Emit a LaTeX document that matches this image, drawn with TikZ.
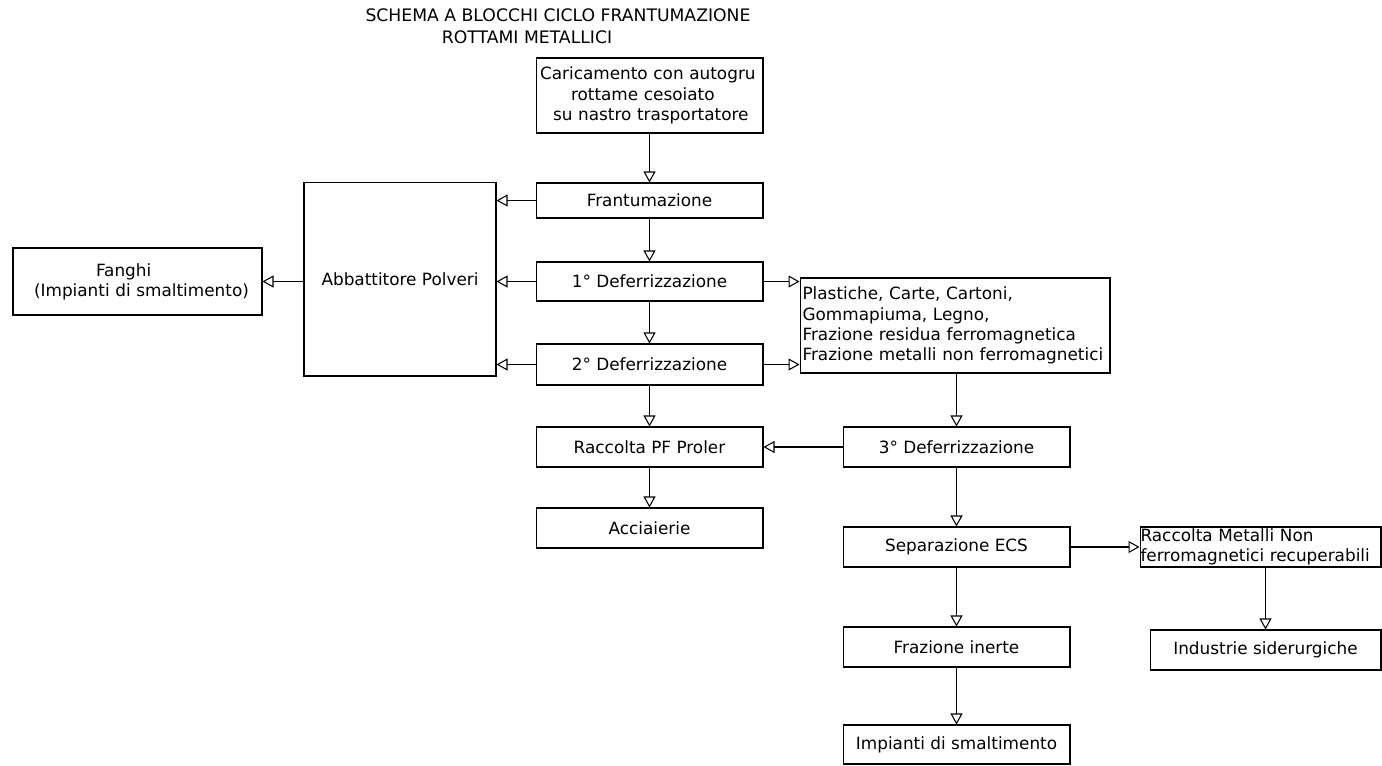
\documentclass[tikz,border=0pt]{standalone}
\usepackage{fontspec}
\setmainfont{DejaVu Sans}
\usetikzlibrary{arrows.meta}

\begin{document}
\begin{tikzpicture}[x=0.02cm,y=-0.02cm,
  box/.style={draw,line width=0.6pt,rectangle,minimum width=4.54cm,minimum height=0.8cm,inner sep=0.06cm,font=\fontsize{9.6}{11.5}\selectfont},
  flow/.style={line width=0.6pt,-{Triangle[open,length=0.22cm,width=0.24cm]}}]
\useasboundingbox (0,0) rectangle (1382,765);
% titolo
\node[font=\fontsize{9.8}{11.5}\selectfont] (title) at (558,15) {SCHEMA A BLOCCHI CICLO FRANTUMAZIONE};
\node[font=\fontsize{9.8}{11.5}\selectfont] (title2) at (527,37) {ROTTAMI METALLICI};

% colonna centrale
\node[box,minimum height=1.5cm,text width=4.38cm,align=left,inner xsep=0.08cm] (carica) at (649.5,95.5)
  {Caricamento con autogru\\\hspace*{0.62cm}rottame cesoiato\\\hspace*{0.26cm}su nastro trasportatore};
\node[box,minimum height=0.7cm] (frant) at (649.5,200.5) {Frantumazione};
\node[box,minimum height=0.78cm] (def1) at (649.5,281.5) {1° Deferrizzazione};
\node[box,minimum height=0.82cm] (def2) at (649.5,364.5) {2° Deferrizzazione};
\node[box] (raccPF) at (649.5,447) {Raccolta PF Proler};
\node[box] (acc) at (649.5,528) {Acciaierie};

% lato sinistro
\node[box,minimum width=3.84cm,minimum height=3.88cm] (abbatt) at (400,279) {Abbattitore Polveri};
\node[box,minimum height=1.34cm,text width=4.82cm,align=left,inner xsep=0.08cm] (fanghi) at (137.5,281.5)
  {\hspace*{1.58cm}Fanghi\\\hspace*{0.34cm}(Impianti di smaltimento)};

% lato destro
\node[box,minimum height=1.9cm,text width=6.1cm,align=left,inner xsep=0.05cm] (plast) at (955,325.5)
  {Plastiche, Carte, Cartoni,\\Gommapiuma, Legno,\\Frazione residua ferromagnetica\\Frazione metalli non ferromagnetici};
\node[box] (def3) at (956.5,447) {3° Deferrizzazione};
\node[box] (sep) at (956.5,547) {Separazione ECS};
\node[box,inner sep=0pt,text width=4.8cm,inner xsep=0.01cm,align=left] (raccMet) at (1260.5,547)
  {Raccolta Metalli Non\\ferromagnetici recuperabili};
\node[box,minimum width=4.62cm] (industrie) at (1265.5,650) {Industrie siderurgiche};
\node[box] (inerte) at (956.5,647) {Frazione inerte};
\node[box,minimum height=0.78cm] (impianti) at (956.5,744.5) {Impianti di smaltimento};

% frecce
\draw[flow] (carica) -- (frant);
\draw[flow] (frant) -- (def1);
\draw[flow] (def1) -- (def2);
\draw[flow] (def2) -- (raccPF);
\draw[flow] (raccPF) -- (acc);
\draw[flow] (frant.west) -- (frant.west -| abbatt.east);
\draw[flow] (def1.west) -- (def1.west -| abbatt.east);
\draw[flow] (def2.west) -- (def2.west -| abbatt.east);
\draw[flow] (abbatt.west |- fanghi.east) -- (fanghi.east);
\draw[flow] (def1.east) -- (def1.east -| plast.west);
\draw[flow] (def2.east) -- (def2.east -| plast.west);
\draw[flow] (def3.north |- plast.south) -- (def3.north);
\draw[flow] (def3.west) -- (raccPF.east);
\draw[flow] (def3) -- (sep);
\draw[flow] (sep.east) -- (sep.east -| raccMet.west);
\draw[flow] (industrie.north |- raccMet.south) -- (industrie.north);
\draw[flow] (sep) -- (inerte);
\draw[flow] (inerte) -- (impianti);
\end{tikzpicture}
\end{document}
